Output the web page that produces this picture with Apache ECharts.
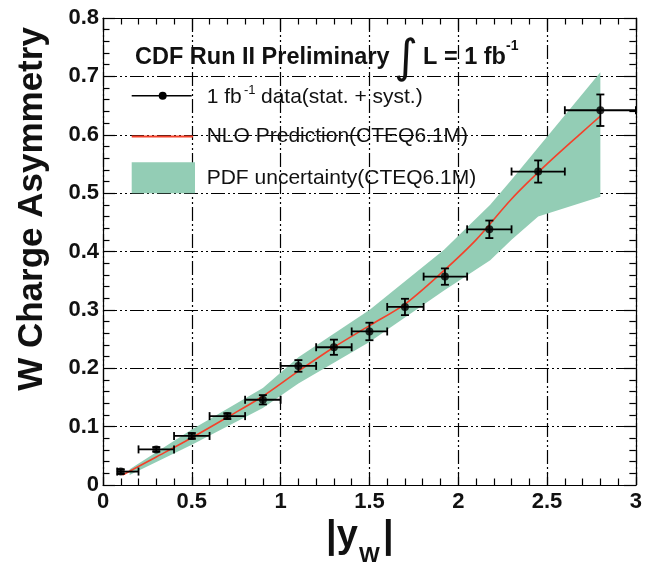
<!DOCTYPE html>
<html>
<head>
<meta charset="utf-8">
<script src="https://cdn.jsdelivr.net/npm/echarts@6/dist/echarts.min.js"></script>
<style>html,body{margin:0;padding:0;background:#fff}#c{width:645px;height:566px}</style>
</head>
<body>
<div id="c"></div>
<script>
// ---- data ----
const dataX  = [0.1, 0.3, 0.5, 0.7, 0.9, 1.1, 1.3, 1.5, 1.7, 1.925, 2.175, 2.45, 2.8];
const dataY  = [0.023, 0.061, 0.084, 0.118, 0.146, 0.204, 0.236, 0.263, 0.305, 0.357, 0.438, 0.537, 0.642];
const xLow   = [0.08, 0.2, 0.4, 0.6, 0.8, 1.0, 1.2, 1.4, 1.6, 1.805, 2.05, 2.3, 2.6];
const xHigh  = [0.2, 0.4, 0.6, 0.8, 1.0, 1.2, 1.4, 1.6, 1.805, 2.05, 2.3, 2.6, 3.0];
const yErr   = [0.004, 0.004, 0.005, 0.005, 0.008, 0.01, 0.013, 0.015, 0.014, 0.014, 0.015, 0.019, 0.027];

const nloX = [0.11, 0.3, 0.5, 0.7, 0.9, 1.1, 1.3, 1.5, 1.7, 1.9, 2.1, 2.3, 2.5, 2.7, 2.8];
const nloY = [0.017, 0.048, 0.081, 0.116, 0.152, 0.195, 0.236, 0.273, 0.31, 0.362, 0.42, 0.49, 0.55, 0.605, 0.632];

const bandX    = [0.15, 0.5, 0.9, 1.1, 1.5, 1.92, 2.18, 2.3, 2.45, 2.8];
const bandHigh = [0.027, 0.095, 0.166, 0.219, 0.30, 0.403, 0.48, 0.523, 0.578, 0.707];
const bandLow  = [0.017, 0.069, 0.132, 0.174, 0.245, 0.333, 0.385, 0.42, 0.46, 0.494];

const xTickLabels = ['0', '0.5', '1', '1.5', '2', '2.5', '3'];
const yTickLabels = ['0', '0.1', '0.2', '0.3', '0.4', '0.5', '0.6', '0.7', '0.8'];

const FONT = '"Liberation Sans", Arial, Helvetica, sans-serif';
const RED = '#f4412a';
const GREEN = '#93cdb5';
const GRID_DASH = [14, 3, 2, 3, 2, 3];

const chart = echarts.init(document.getElementById('c'), null, {renderer: 'canvas'});

const pts = dataX.map((x, i) => [x, dataY[i], xLow[i], xHigh[i], yErr[i]]);

function axisCommon(showLabel, pos, isX) {
  return {
    type: 'value',
    position: pos,
    min: 0,
    max: isX ? 3 : 0.8,
    interval: isX ? 0.5 : 0.1,
    axisLine: {show: true, onZero: false, lineStyle: {color: '#000', width: 1.2}},
    axisTick: {show: true, inside: true, length: 12, lineStyle: {color: '#000', width: 1.2}},
    minorTick: {show: true, splitNumber: 5, length: 6.5, lineStyle: {color: '#000', width: 1.2}},
    splitLine: {show: showLabel, lineStyle: {color: '#000', width: 1.2, type: GRID_DASH}},
    minorSplitLine: {show: false},
    axisLabel: {
      show: showLabel,
      fontFamily: FONT, fontWeight: 'bold', fontSize: 22, color: '#111',
      margin: isX ? 6 : 4,
      formatter: function (v) {
        const arr = isX ? xTickLabels : yTickLabels;
        const idx = Math.round(v / (isX ? 0.5 : 0.1));
        return arr[idx] !== undefined ? arr[idx] : '';
      }
    }
  };
}

function txt(x, y, text, font, align, vAlign, extra) {
  return Object.assign({
    type: 'text', x: x, y: y, z: 100,
    style: {text: text, font: font, fill: '#111', align: align || 'left', verticalAlign: vAlign || 'middle',
            textAlign: align || 'left', textVerticalAlign: vAlign || 'middle'}
  }, extra || {});
}

const option = {
  backgroundColor: '#fff',
  animation: false,
  grid: {left: 103, right: 6, top: 18, bottom: 81},
  xAxis: [axisCommon(true, 'bottom', true), axisCommon(false, 'top', true)],
  yAxis: [axisCommon(true, 'left', false), axisCommon(false, 'right', false)],
  series: [
    {
      name: 'PDF uncertainty(CTEQ6.1M)',
      type: 'custom',
      z: 2,
      data: [[bandX[0], bandLow[0]]],
      renderItem: function (params, api) {
        const up = bandX.map((x, i) => api.coord([x, bandHigh[i]]));
        const lo = bandX.map((x, i) => api.coord([x, bandLow[i]])).reverse();
        return {type: 'polygon', shape: {points: up.concat(lo)}, style: {fill: GREEN}};
      }
    },
    {
      name: 'NLO Prediction(CTEQ6.1M)',
      type: 'line',
      z: 3,
      smooth: 0.3,
      showSymbol: false,
      data: nloX.map((x, i) => [x, nloY[i]]),
      lineStyle: {color: RED, width: 1.6}
    },
    {
      name: 'errors',
      type: 'custom',
      z: 4,
      data: pts,
      renderItem: function (params, api) {
        const x = api.value(0), y = api.value(1), xl = api.value(2), xh = api.value(3), ye = api.value(4);
        const l = api.coord([xl, y]), r = api.coord([xh, y]);
        const t = api.coord([x, y + ye]), b = api.coord([x, y - ye]);
        const cap = 4;
        const st = {stroke: '#000', lineWidth: 1.8};
        const mk = (x1, y1, x2, y2) => ({type: 'line', shape: {x1: x1, y1: y1, x2: x2, y2: y2}, style: st});
        return {type: 'group', children: [
          mk(l[0], l[1], r[0], r[1]),
          mk(t[0], t[1], b[0], b[1]),
          mk(l[0], l[1] - cap, l[0], l[1] + cap),
          mk(r[0], r[1] - cap, r[0], r[1] + cap),
          mk(t[0] - cap, t[1], t[0] + cap, t[1]),
          mk(b[0] - cap, b[1], b[0] + cap, b[1])
        ]};
      }
    },
    {
      name: '1 fb-1 data(stat. + syst.)',
      type: 'scatter',
      z: 5,
      symbol: 'circle',
      symbolSize: 8,
      data: dataX.map((x, i) => [x, dataY[i]]),
      itemStyle: {color: '#000'}
    }
  ],
  graphic: [
    // title
    txt(135, 58, 'CDF Run II Preliminary', 'bold 23.5px ' + FONT),
    txt(406, 60, '\u222B', '46px "DejaVu Sans"', 'center', 'middle'),
    txt(423, 58, 'L = 1 fb', 'bold 23.5px ' + FONT),
    txt(506, 46, '-1', 'bold 14px ' + FONT),
    // legend item 1
    {type: 'line', z: 100, shape: {x1: 131.7, y1: 95.7, x2: 191.7, y2: 95.7}, style: {stroke: '#000', lineWidth: 1.6}},
    {type: 'circle', z: 101, shape: {cx: 162.7, cy: 95.7, r: 4}, style: {fill: '#000'}},
    txt(206.7, 97, '1 fb', '21px ' + FONT),
    txt(244, 90, '-1', '13px ' + FONT),
    txt(261, 97, 'data(stat. + syst.)', '21px ' + FONT),
    // legend item 2
    {type: 'line', z: 100, shape: {x1: 131.7, y1: 136.5, x2: 193, y2: 136.5}, style: {stroke: RED, lineWidth: 2.2}},
    txt(206.7, 136.5, 'NLO Prediction(CTEQ6.1M)', '21px ' + FONT),
    // legend item 3
    {type: 'rect', z: 100, shape: {x: 131.7, y: 162.3, width: 63.3, height: 31}, style: {fill: GREEN}},
    txt(206.7, 178, 'PDF uncertainty(CTEQ6.1M)', '21px ' + FONT),
    // y axis title
    txt(32, 209, 'W Charge Asymmetry', 'bold 35px ' + FONT, 'center', 'middle', {rotation: Math.PI / 2}),
    // x axis title
    txt(326, 537, '|y', 'bold 38px ' + FONT),
    txt(359, 556, 'W', 'bold 22px ' + FONT),
    txt(383, 537, '|', 'bold 38px ' + FONT)
  ]
};
chart.setOption(option);
</script>
</body>
</html>
